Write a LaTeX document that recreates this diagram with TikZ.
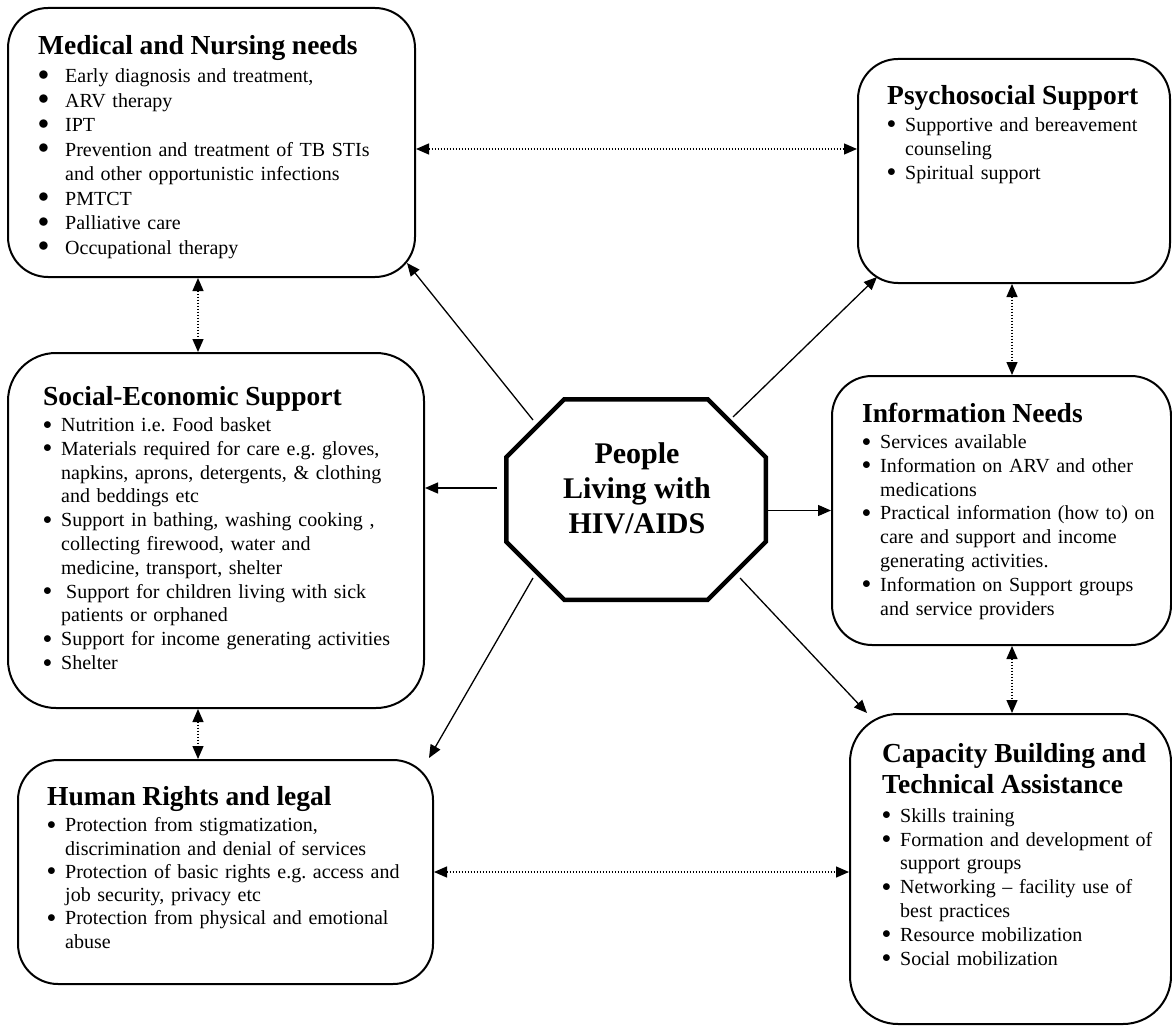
\documentclass[tikz,border=0pt]{standalone}
\usepackage{graphicx}
\usepackage{fontspec}
\setmainfont{Liberation Serif}
\usetikzlibrary{arrows.meta}

\newlength{\bulletgap}
\newcommand{\bulletsize}{0.85}
\newcommand{\bulletmark}{\raisebox{2.5pt}{\scalebox{\bulletsize}{$\bullet$}}}
\newcommand{\needitem}{\par\hangindent=\bulletgap\hangafter=1\noindent\makebox[\bulletgap][l]{\bulletmark}}
\newcommand{\wrapline}{\hfil\break}
\newcommand{\listfont}[1]{\fontsize{20pt}{#1}\selectfont\frenchspacing\setlength{\parindent}{0pt}\setlength{\bulletgap}{18pt}}
\newcommand{\boxtitle}[2][2.7pt]{{\fontsize{27.5pt}{31.5pt}\selectfont\bfseries #2\par}\vspace{#1}}

\tikzset{
  panel/.style={draw, line width=2pt, rounded corners=40pt, inner sep=0pt},
  needlist/.style={anchor=base west, inner sep=0pt, text width=420pt, align=left, font=\listfont{#1}},
  needlist/.default=23.8pt,
  hubline/.style={line width=4.5pt, line join=miter},
  arrow/.style={line width=1.3pt, -{Triangle[length=13pt,width=11pt]}},
  twoway/.style={line width=1.3pt, dash pattern=on 1.3pt off 1.7pt,
    {Triangle[length=13pt,width=11pt]}-{Triangle[length=13pt,width=11pt]}}
}

\begin{document}
\begin{tikzpicture}[x=1pt,y=-1pt]
  \useasboundingbox (0,0) rectangle (1172,1027);
  %\draw[lightgray] (0,0) grid[step=100] (1172,1027);

  % boxes
  \node[panel, minimum width=407pt, minimum height=269pt] (med) at (211.5,142.5) {};
  \node[panel, minimum width=312pt, minimum height=224pt] (psy) at (1014,171) {};
  \node[panel, minimum width=416pt, minimum height=355pt, rounded corners=48pt] (soc) at (216,530.5) {};
  \node[panel, minimum width=339pt, minimum height=269pt] (info) at (1001.5,510.5) {};
  \node[panel, minimum width=415pt, minimum height=224pt] (hr) at (225.5,872) {};
  \node[panel, minimum width=321pt, minimum height=310pt, rounded corners=48pt] (cap) at (1010.5,869) {};

  % centre octagon
  \node[minimum width=259.5pt, minimum height=200.5pt, inner sep=0pt, outer sep=0pt] (hub) at (636,499.5) {};
  \draw[hubline] ([xshift=58pt]hub.north west) -- ([xshift=-58pt]hub.north east)
    -- ([yshift=-58pt]hub.north east) -- ([yshift=58pt]hub.south east)
    -- ([xshift=-58pt]hub.south east) -- ([xshift=58pt]hub.south west)
    -- ([yshift=58pt]hub.south west) -- ([yshift=-58pt]hub.north west) -- cycle;
  \node[align=center, inner sep=0pt, font=\fontsize{30pt}{35pt}\selectfont\bfseries] (hubtext)
    at ([shift={(1,-11.5)}]hub.center) {People\\Living with\\HIV/AIDS};

  % texts
  \node[needlist=24.5pt] (medtxt) at (38,55) {\setlength{\bulletgap}{27pt}\renewcommand{\bulletsize}{1.05}%
    \boxtitle[3.2pt]{Medical and Nursing needs}
    \needitem Early diagnosis and treatment,
    \needitem ARV therapy
    \needitem IPT
    \needitem Prevention and treatment of TB STIs\wrapline and other opportunistic infections
    \needitem PMTCT
    \needitem Palliative care
    \needitem Occupational therapy\par};
  \node[needlist] (psytxt) at (887,105) {%
    \boxtitle{Psychosocial Support}
    \needitem Supportive and bereavement\wrapline counseling
    \needitem Spiritual support\par};
  \node[needlist] (soctxt) at (43,405) {%
    \boxtitle{Social-Economic Support}
    \needitem Nutrition i.e. Food basket
    \needitem Materials required for care e.g. gloves,\wrapline napkins, aprons, detergents, \& clothing\wrapline and beddings etc
    \needitem Support in bathing, washing cooking ,\wrapline collecting firewood, water and\wrapline medicine, transport, shelter
    \needitem \hspace{5pt}Support for children living with sick\wrapline patients or orphaned
    \needitem Support for income generating activities
    \needitem Shelter\par};
  \node[needlist] (infotxt) at (862,422) {%
    \boxtitle{Information Needs}
    \needitem Services available
    \needitem Information on ARV and other\wrapline medications
    \needitem Practical information (how to) on\wrapline care and support and income\wrapline generating activities.
    \needitem Information on Support groups\wrapline and service providers\par};
  \node[needlist=23.3pt] (hrtxt) at (47,805) {%
    \boxtitle[3.4pt]{Human Rights and legal}
    \needitem Protection from stigmatization,\wrapline discrimination and denial of services
    \needitem Protection of basic rights e.g. access and\wrapline job security, privacy etc
    \needitem Protection from physical and emotional\wrapline abuse\par};
  \node[needlist] (captxt) at (882,762) {%
    \boxtitle[4.9pt]{Capacity Building and\\Technical Assistance}
    \needitem Skills training
    \needitem Formation and development of\wrapline support groups
    \needitem Networking – facility use of\wrapline best practices
    \needitem Resource mobilization
    \needitem Social mobilization\par};

  % arrows from the centre
  \draw[arrow] ([shift={(-103,-79.5)}]hub.center) -- ([shift={(-9,-15)}]med.south east);
  \draw[arrow] ([shift={(97,-82.5)}]hub.center) -- ([shift={(20,-7)}]psy.south west);
  \draw[arrow] ([shift={(-139,-11.5)}]hub.center) -- ([shift={(0,-42.5)}]soc.east);
  \draw[arrow] (hub.east |- info.west) -- (info.west);
  \draw[arrow] ([shift={(-103,78.5)}]hub.center) -- ([shift={(-5,-1)}]hr.north east);
  \draw[arrow] ([shift={(104,78.5)}]hub.center) -- ([shift={(18,0)}]cap.north west);

  % dotted links between boxes
  \draw[twoway] ([shift={(0,6.5)}]med.east) -- ([shift={(0,-22)}]psy.west);
  \draw[twoway] ([shift={(-13.5,0)}]med.south) -- ([shift={(-18,0)}]soc.north);
  \draw[twoway] ([shift={(-18,0)}]soc.south) -- ([shift={(-27.5,0)}]hr.north);
  \draw[twoway] ([shift={(-2,0)}]psy.south) -- ([shift={(10.5,0)}]info.north);
  \draw[twoway] ([shift={(10.5,0)}]info.south) -- ([shift={(1.5,0)}]cap.north);
  \draw[twoway] (hr.east) -- ([shift={(0,3)}]cap.west);
\end{tikzpicture}
\end{document}
